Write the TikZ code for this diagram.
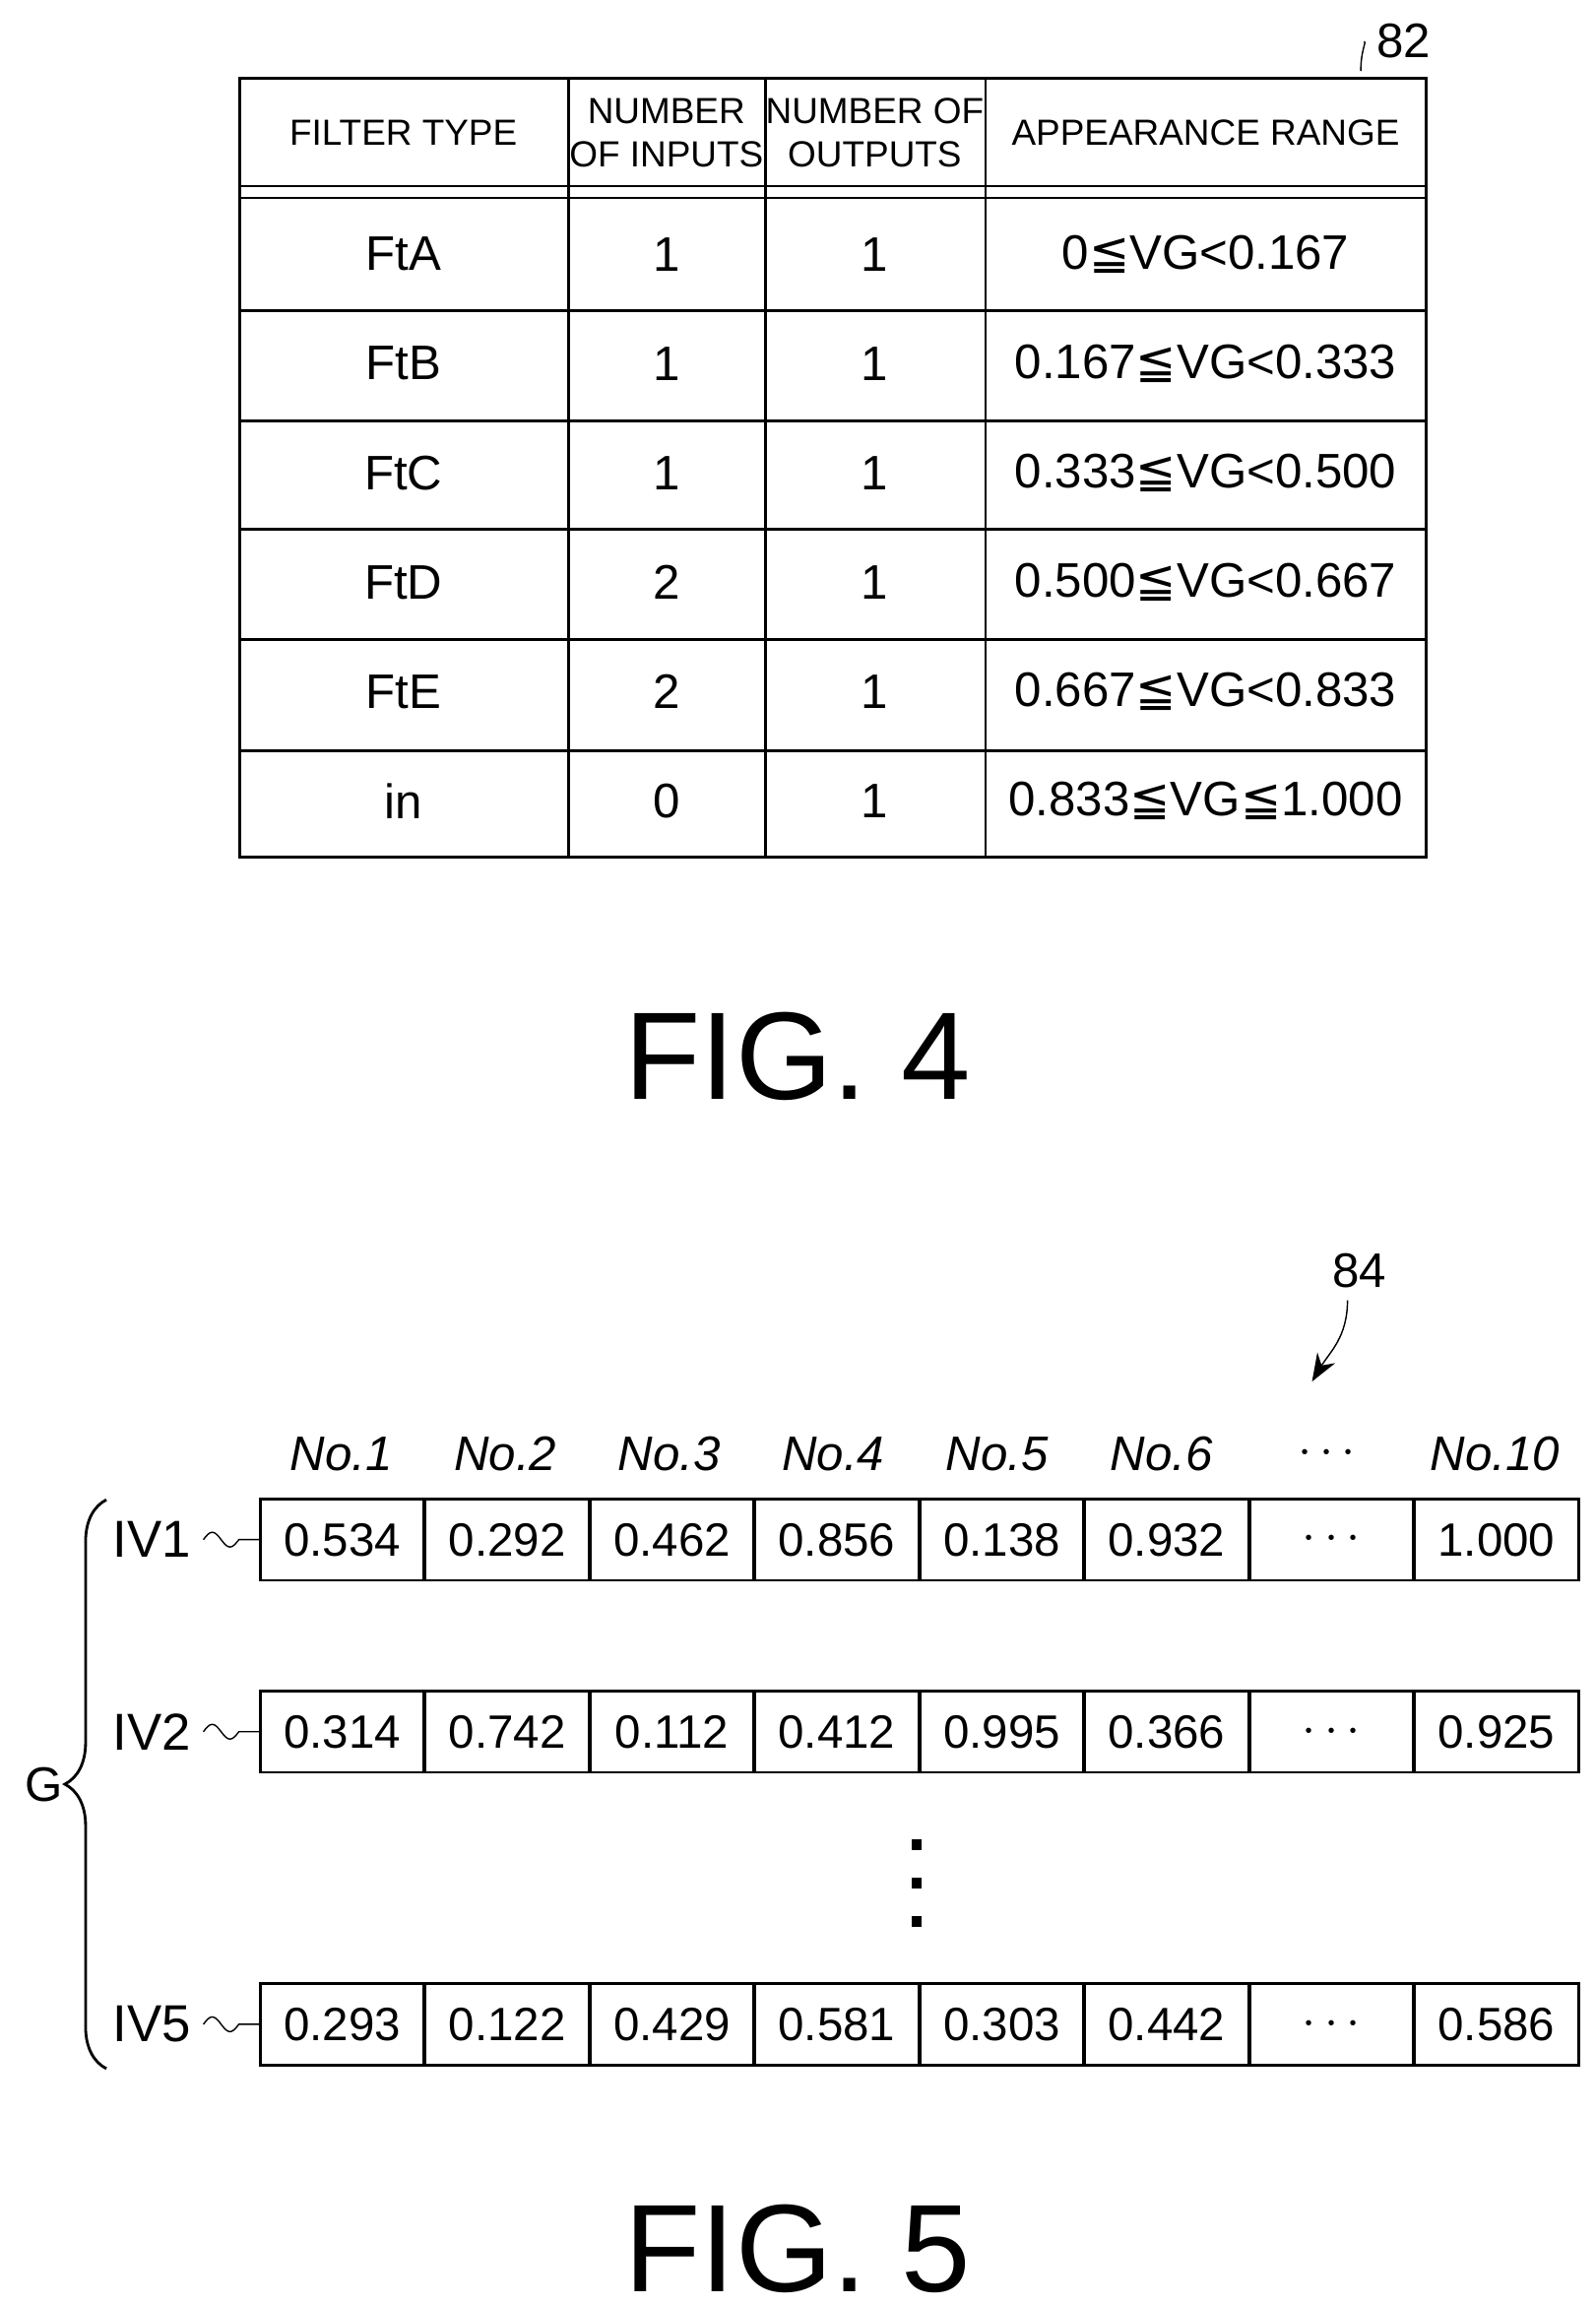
\documentclass[tikz,border=0pt]{standalone}
\usepackage{fontspec}
\setmainfont{Liberation Sans}
\newfontfamily\symf{DejaVu Sans}
\usetikzlibrary{decorations.pathreplacing,arrows.meta}
\newcommand{\leqqs}{{\symf ≦}}
\tikzset{
  cell/.style={font=\fontsize{14}{17}\selectfont},
  head/.style={font=\fontsize{10.5}{12.5}\selectfont,align=center},
  val/.style={draw,thick,minimum width=1.665cm,minimum height=0.825cm,inner sep=0pt,font=\fontsize{13.5}{16}\selectfont},
  fig/.style={font=\fontsize{36}{40}\selectfont},
}
\begin{document}
\begin{tikzpicture}[x=0.015cm,y=-0.015cm]
\useasboundingbox (0,0) rectangle (1080,1560);

% FIG. 4 table
\draw[thick] (162,53) rectangle (965,580);
\foreach \x in {385,518,667} \draw[thick] (\x,53) -- (\x,580);
\draw[thick] (162,126) -- (965,126);
\draw[thick] (162,134) -- (965,134);
\foreach \y in {210,285,358,433,508} \draw[thick] (162,\y) -- (965,\y);
\node[head] (h1) at (273,90) {FILTER TYPE};
\node[head] (h2) at (451,90) {NUMBER\\OF INPUTS};
\node[head] (h3) at (592,90) {NUMBER OF\\OUTPUTS};
\node[head] (h4) at (816,90) {APPEARANCE RANGE};
\foreach \t/\i/\o/\r [count=\k] in {FtA/1/1/{0\leqqs VG<0.167},FtB/1/1/{0.167\leqqs VG<0.333},FtC/1/1/{0.333\leqqs VG<0.500},FtD/2/1/{0.500\leqqs VG<0.667},FtE/2/1/{0.667\leqqs VG<0.833},in/0/1/{0.833\leqqs VG\leqqs 1.000}}{
  \node[cell] (t\k) at (273,98+74*\k) {\t};
  \node[cell] (i\k) at (451,98+74*\k) {\i};
  \node[cell] (o\k) at (592,98+74*\k) {\o};
  \node[cell] (r\k) at (816,98+74*\k) {\r};
}
\node[cell] (n82) at (950,28) {82};
\draw (n82.west) .. controls (925,28) and (921,34) .. (921,48);
\node[fig] (fig4) at (540,715) {FIG. 4};

% FIG. 5 vectors
\node[cell] (n84) at (920,860) {84};
\draw[-{Stealth[length=8pt]}] (912,880) .. controls (912,905) and (900,915) .. (888,935);
\foreach \h [count=\k] in {No.1,No.2,No.3,No.4,No.5,No.6} \node[cell,font=\fontsize{14}{17}\selectfont\itshape] (c\k) at (120+111*\k,984) {\h};
\node[cell] (c7) at (898,984) {$\cdots$};
\node[cell,font=\fontsize{14}{17}\selectfont\itshape] (c10) at (1012,984) {No.10};
\foreach \nm/\y/\vals in {1/1042/{0.534,0.292,0.462,0.856,0.138,0.932,{$\cdots$},1.000},
    2/1172/{0.314,0.742,0.112,0.412,0.995,0.366,{$\cdots$},0.925},
    5/1370/{0.293,0.122,0.429,0.581,0.303,0.442,{$\cdots$},0.586}}{
  \foreach \v [count=\k] in \vals \node[val] (v\nm-\k) at (120+111.6*\k,\y) {\v};
  \node[cell,font=\fontsize{15}{18}\selectfont\rmfamily] (iv\nm) at (103,\y) {IV\nm};
  \draw (iv\nm.east) sin +(6,-5) cos +(6,5) sin +(6,5) cos +(6,-5) -- (v\nm-1.west);
}
\foreach \y in {1245,1271,1297} \fill (617,\y) rectangle (624,\y+7);
\draw[thick,decorate,decoration={brace,amplitude=12pt}] (72,1400) -- (72,1015);
\node[cell] (g) at (30,1208) {G};
\node[fig] (fig5) at (540,1522) {FIG. 5};
\end{tikzpicture}
\end{document}
